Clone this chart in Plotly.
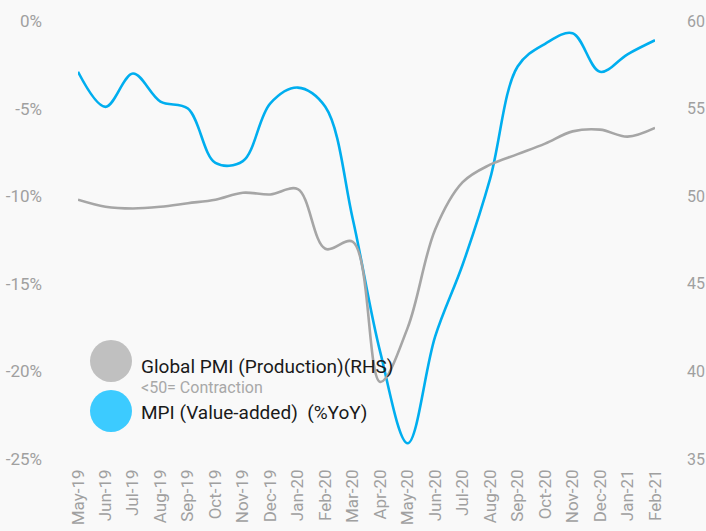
import plotly.graph_objects as go

months = ["May-19", "Jun-19", "Jul-19", "Aug-19", "Sep-19", "Oct-19", "Nov-19", "Dec-19",
          "Jan-20", "Feb-20", "Mar-20", "Apr-20", "May-20", "Jun-20", "Jul-20", "Aug-20",
          "Sep-20", "Oct-20", "Nov-20", "Dec-20", "Jan-21", "Feb-21"]
mpi_yoy = [-2.9, -4.9, -3.0, -4.6, -5.0, -8.1, -8.0, -4.7, -3.8, -4.9, -11.3, -18.9,
           -24.1, -18.0, -13.9, -9.0, -2.6, -1.3, -0.7, -2.9, -1.9, -1.1]
global_pmi = [49.8, 49.4, 49.3, 49.4, 49.6, 49.8, 50.2, 50.1, 50.4, 47.0, 47.4, 39.4,
              42.5, 48.1, 50.8, 51.8, 52.4, 53.0, 53.7, 53.8, 53.4, 53.9]
left_ticks = [0, -5, -10, -15, -20, -25]
right_ticks = [60, 55, 50, 45, 40, 35]

x = list(range(len(months)))
FONT = "Roboto, 'Noto Sans', sans-serif"
tick_font = dict(family=FONT, size=17, color="#a0a0a0")

fig = go.Figure()
fig.add_trace(go.Scatter(x=x, y=global_pmi, yaxis="y2", mode="lines",
                         line=dict(color="#a6a6a6", width=2.6, shape="spline", smoothing=1),
                         showlegend=False))
fig.add_trace(go.Scatter(x=x, y=mpi_yoy, mode="lines",
                         line=dict(color="#00aeef", width=2.6, shape="spline", smoothing=1),
                         showlegend=False))

fig.update_layout(
    width=706, height=531,
    margin=dict(l=78, r=51, t=21, b=72),
    paper_bgcolor="#f9f9f9", plot_bgcolor="#f9f9f9",
    xaxis=dict(range=[0, len(months) - 1], tickvals=x, ticktext=months, tickangle=-90,
               showgrid=False, zeroline=False, showline=False, ticks="", automargin=False,
               tickfont=dict(family=FONT, size=17, color="#a0a0a0"),
               ticklabelstandoff=6),
    yaxis=dict(range=[-25, 0], tickvals=left_ticks, ticktext=[f"{v}%" for v in left_ticks],
               showgrid=False, zeroline=False, showline=False, ticks="", automargin=False,
               tickfont=tick_font, ticklabelstandoff=35),
    yaxis2=dict(range=[35, 60], tickvals=right_ticks, ticktext=[str(v) for v in right_ticks],
                overlaying="y", side="right", showgrid=False, zeroline=False, showline=False,
                ticks="", automargin=False, tickfont=dict(family=FONT, size=16, color="#a0a0a0"),
                ticklabelstandoff=31),
)

def px_to_paper_x(px):
    return (px - 78) / (706 - 78 - 51)

def px_to_paper_y(py):
    return (459 - py) / (459 - 21)

def circle(cx, cy, color):
    fig.add_shape(type="circle", xref="paper", yref="paper", xsizemode="pixel", ysizemode="pixel",
                  xanchor=px_to_paper_x(cx), yanchor=px_to_paper_y(cy), x0=-21, x1=21, y0=-21, y1=21,
                  fillcolor=color, line=dict(width=0))

circle(111, 361, "#c0c0c0")
circle(111, 411, "#3ccbff")

legend_font = dict(family=FONT, size=19, color="#1a1a1a")
fig.add_annotation(xref="paper", yref="paper", x=px_to_paper_x(139), y=px_to_paper_y(366),
                   text="Global PMI (Production)(RHS)", showarrow=False, xanchor="left",
                   yanchor="middle", font=legend_font)
fig.add_annotation(xref="paper", yref="paper", x=px_to_paper_x(139), y=px_to_paper_y(387),
                   text="<50= Contraction", showarrow=False, xanchor="left", yanchor="middle",
                   font=dict(family=FONT, size=16, color="#a8a8a8"))
fig.add_annotation(xref="paper", yref="paper", x=px_to_paper_x(139), y=px_to_paper_y(412),
                   text="MPI (Value-added)  (%YoY)", showarrow=False, xanchor="left",
                   yanchor="middle", font=legend_font)

fig.write_html("out.html", config={"displayModeBar": False},
               post_script="document.body.style.margin='0';document.body.style.overflow='hidden';document.body.style.background='#f9f9f9';")
